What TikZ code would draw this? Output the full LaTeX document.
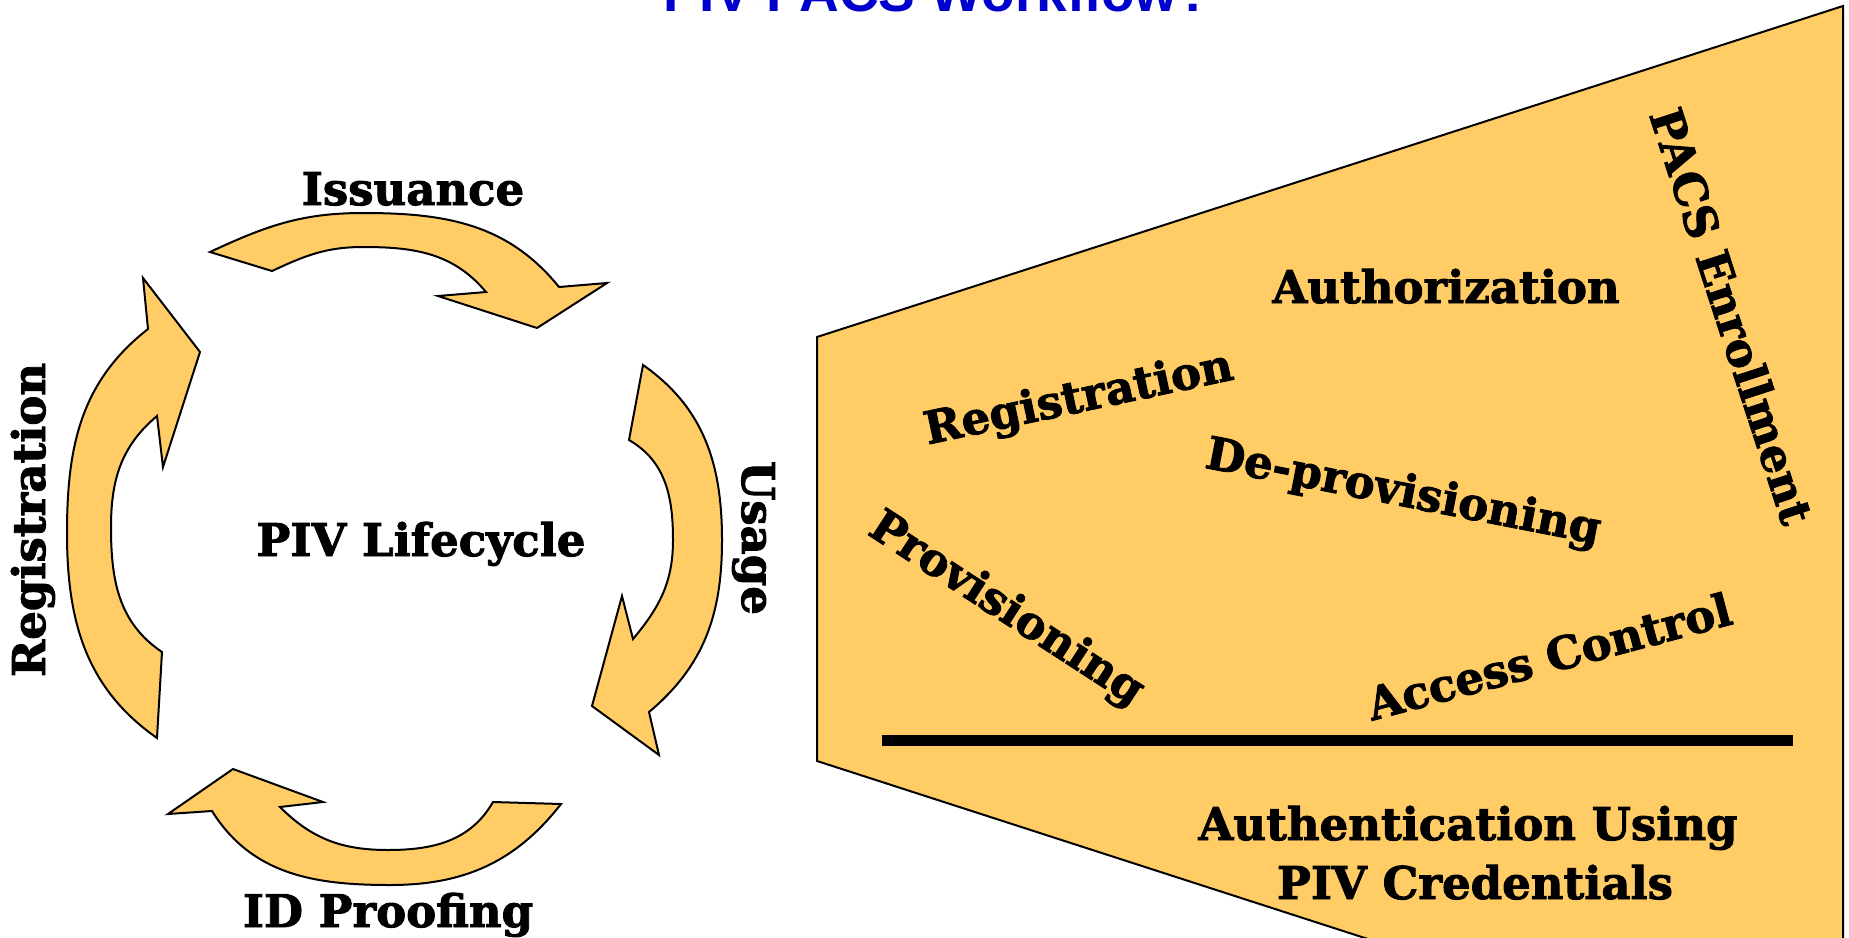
\documentclass[tikz,border=0pt]{standalone}
\usepackage{fontspec}
\usepackage{tikz}
\usetikzlibrary{positioning}
\newfontfamily\cooper{DejaVu Serif}[BoldFeatures={FakeBold=2}]
\newfontfamily\titlefont{Liberation Sans}
\definecolor{pivgold}{RGB}{255,204,102}
\definecolor{titleblue}{RGB}{0,0,204}

\begin{document}
\begin{tikzpicture}[x=1pt, y=1pt,
    cyc/.style={draw=black, fill=pivgold, line width=2pt},
    lbl/.style={font=\cooper\bfseries\fontsize{45}{50}\selectfont, inner sep=0pt}]
    \useasboundingbox (0,0) rectangle (1849,-937);
    \node[font=\titlefont\bfseries\fontsize{55}{60}\selectfont, text=titleblue, anchor=base] (title) at (937,-11) {PIV-PACS Workflow?};

    \draw[cyc] (210,-252) to[out=25, in=180] (363,-213) to[out=0, in=129] (559,-287) -- (607,-283) -- (537,-328) -- (438,-296) -- (486,-292) to[out=130, in=0] (363,-247) to[out=180, in=25] (272,-271) -- cycle;
    \draw[cyc] (643,-365) to[out=-35, in=90] (722,-540) to[out=-90, in=40] (649,-712) -- (659,-755) -- (592,-706) -- (622,-596) -- (633,-639) to[out=50, in=-90] (673,-540) to[out=90, in=-30] (629,-440) -- cycle;
    \draw[cyc] (561,-804) to[out=232, in=0] (390,-885) to[out=180, in=-58] (212,-811) -- (168,-814) -- (233,-769) -- (323,-802) -- (280,-807) to[out=-45, in=180] (388,-850) to[out=0, in=-120] (493,-802) -- cycle;
    \draw[cyc] (157,-738) to[out=145, in=-90] (67,-533) to[out=90, in=-142] (148,-329) -- (143,-278) -- (200,-352) -- (163,-467) -- (157,-416) to[out=220, in=90] (111,-527) to[out=-90, in=146] (162,-652) -- cycle;

    \node[lbl, anchor=base] (issuance) at (413,-205) {Issuance};
    \node[lbl, anchor=base] (lifecycle) at (421,-556) {PIV Lifecycle};
    \node[lbl, anchor=base] (idproof) at (388,-927) {ID Proofing};
    \node[lbl, anchor=base, rotate=90] (registr) at (45,-520) {Registration};
    \node[lbl, anchor=base, rotate=-90] (usage) at (742,-538) {Usage};

\draw[cyc] (817,-337) -- (1843,-6) -- (1843,-950) -- (1402,-950) -- (817,-761) -- cycle;
\coordinate (barl) at (882,-740);
\coordinate (barr) at (1793,-740);
\draw[line width=11pt] (barl) -- (barr);

\node[lbl, anchor=base] (authz) at (1446,-303) {Authorization};
\node[lbl, rotate=12] (regin) at (1079,-400) {Registration};
\node[lbl, rotate=-11] (deprov) at (1403,-494) {De-provisioning};
\node[lbl, rotate=-33] (prov) at (1006,-610) {Provisioning};
\node[lbl, rotate=15] (access) at (1549,-656) {Access Control};
\node[lbl, rotate=-72] (pacs) at (1732,-316) {PACS Enrollment};
\node[lbl, anchor=base] (authn) at (1468,-840) {Authentication Using};
\node[lbl, anchor=base] (pivcred) at (1475,-899) {PIV Credentials};
    \end{tikzpicture}
\end{document}
